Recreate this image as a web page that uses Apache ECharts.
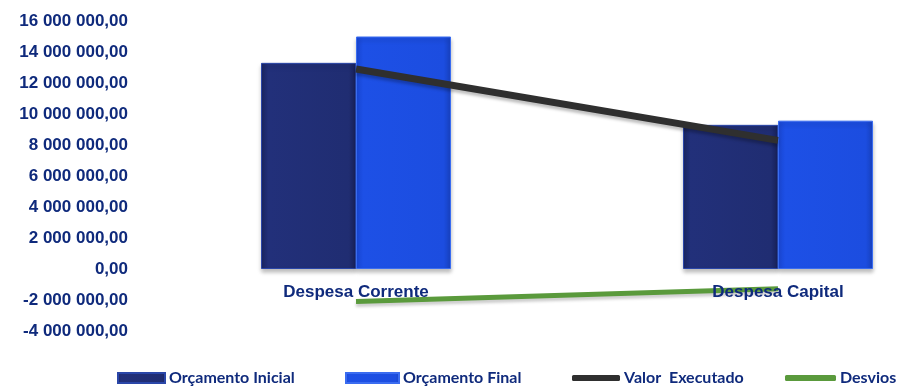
<!DOCTYPE html>
<html><head><meta charset="utf-8">
<script src="https://cdn.jsdelivr.net/npm/echarts@6/dist/echarts.min.js"></script>
<style>html,body{margin:0;padding:0;background:#fff}#c{width:903px;height:387px}</style>
</head><body><div id="c"></div>
<script>
const categories = ['Despesa Corrente', 'Despesa Capital'];
const orcamentoInicial = [13300000, 9300000];
const orcamentoFinal = [15000000, 9570000];
const valorExecutado = [12900000, 8300000];
const desvios = [-2100000, -1270000];
const seriesNames = ['Orçamento Inicial', 'Orçamento Final', 'Valor  Executado', 'Desvios'];

const navy = '#0f2a7c';
function fmt(v){
  const neg = v < 0; v = Math.abs(v);
  const s = Math.round(v).toString().replace(/\B(?=(\d{3})+(?!\d))/g, ' ');
  return (neg ? '-' : '') + s + ',00';
}
const chart = echarts.init(document.getElementById('c'));
const legendText = {color: navy, fontWeight: 'bold', fontSize: 16, fontFamily: 'Lato'};
function lg(name, left, w, h, icon){
  return {data:[name], left:left, top:370, padding:0, itemWidth:w, itemHeight:h, icon:icon, itemGap:0,
    textStyle: Object.assign({padding:[0,0,0,-1]}, legendText), selectedMode:false};
}
chart.setOption({
  animation:false,
  grid:{left:145, top:21, width:844, height:310, outerBoundsMode:'none', containLabel:false},
  legend:[
    lg(seriesNames[0], 117, 47, 10, 'rect'),
    lg(seriesNames[1], 345, 53, 10, 'rect'),
    lg(seriesNames[2], 572, 48, 6, 'roundRect'),
    lg(seriesNames[3], 785, 51, 6, 'roundRect')
  ],
  xAxis:{type:'category', data:categories, z:10, offset:-62,
    axisLine:{show:false, onZero:false}, axisTick:{show:false},
    axisLabel:{color:navy, fontWeight:'bold', fontSize:17, fontFamily:'Liberation Sans', margin:15}},
  yAxis:{type:'value', min:-4000000, max:16000000, interval:2000000,
    axisLine:{show:false}, axisTick:{show:false}, splitLine:{show:false},
    axisLabel:{color:navy, fontWeight:'bold', fontSize:17, fontFamily:'Liberation Sans', margin:17, formatter:fmt}},
  series:[
    {name:seriesNames[0], type:'bar', data:orcamentoInicial, barWidth:95, barGap:'0%',
      itemStyle:{color:new echarts.graphic.LinearGradient(0,0,1,0,[{offset:0,color:'#1a2663'},{offset:0.08,color:'#22307a'},{offset:0.92,color:'#202d72'},{offset:1,color:'#1a2460'}]),
        borderColor:'#2a46a8', borderWidth:1, shadowColor:'rgba(0,0,0,0.25)', shadowBlur:4, shadowOffsetY:3}},
    {name:seriesNames[1], type:'bar', data:orcamentoFinal, barWidth:95,
      itemStyle:{color:new echarts.graphic.LinearGradient(0,0,1,0,[{offset:0,color:'#1a48d6'},{offset:0.08,color:'#1d50e6'},{offset:0.92,color:'#1c4de0'},{offset:1,color:'#1843c4'}]),
        borderColor:'#3a6cf0', borderWidth:1, shadowColor:'rgba(0,0,0,0.25)', shadowBlur:4, shadowOffsetY:3}},
    {name:seriesNames[2], type:'line', data:valorExecutado, symbol:'none', z:5,
      lineStyle:{color:'#2f2f2f', width:7, shadowColor:'rgba(0,0,0,0.25)', shadowBlur:3, shadowOffsetY:3}, itemStyle:{color:'#2f2f2f'}},
    {name:seriesNames[3], type:'line', data:desvios, symbol:'none', z:5,
      lineStyle:{color:'#5a9a3c', width:5, shadowColor:'rgba(0,0,0,0.2)', shadowBlur:3, shadowOffsetY:3}, itemStyle:{color:'#5a9a3c'}}
  ]
});
</script></body></html>
